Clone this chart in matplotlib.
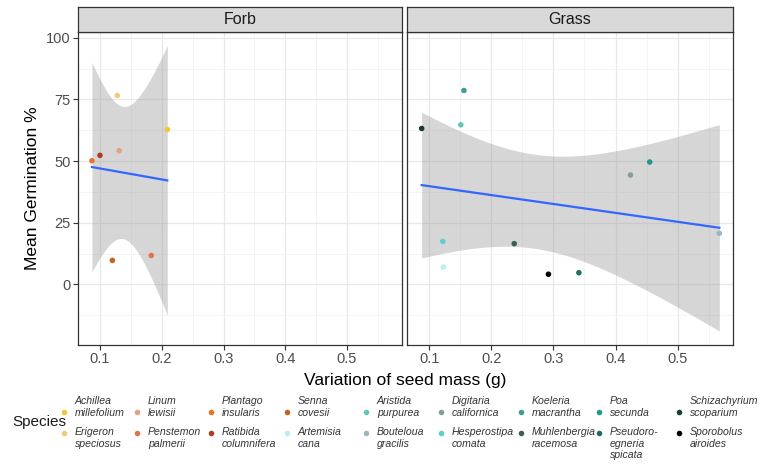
import numpy as np
import matplotlib
matplotlib.use("Agg")
import matplotlib.pyplot as plt

plt.rcParams['font.family'] = ['Liberation Sans', 'DejaVu Sans']

# data
forb_species = ["Achillea millefolium", "Erigeron speciosus", "Linum lewisii", "Penstemon palmerii",
                "Plantago insularis", "Ratibida columnifera", "Senna covesii"]
forb_var = [0.209, 0.128, 0.131, 0.183, 0.087, 0.100, 0.120]
forb_germ = [62.8, 76.6, 54.2, 11.7, 50.1, 52.3, 9.7]

grass_species = ["Artemisia cana", "Aristida purpurea", "Bouteloua gracilis", "Digitaria californica",
                 "Hesperostipa comata", "Koeleria macrantha", "Muhlenbergia racemosa", "Poa secunda",
                 "Pseudoroegneria spicata", "Schizachyrium scoparium", "Sporobolus airoides"]
grass_var = [0.123, 0.151, 0.567, 0.424, 0.122, 0.156, 0.237, 0.455, 0.341, 0.088, 0.292]
grass_germ = [7.0, 64.7, 20.7, 44.3, 17.4, 78.6, 16.5, 49.6, 4.7, 63.2, 4.1]

species_colors = {
    "Achillea millefolium": "#F2C53A", "Erigeron speciosus": "#F6C879", "Linum lewisii": "#E3A08A",
    "Penstemon palmerii": "#E4714F", "Plantago insularis": "#E5732A", "Ratibida columnifera": "#B13B22",
    "Senna covesii": "#C4631C", "Artemisia cana": "#B5F0F2", "Aristida purpurea": "#62C6C0",
    "Bouteloua gracilis": "#9DB8BC", "Digitaria californica": "#7FA19C", "Hesperostipa comata": "#5CCFD2",
    "Koeleria macrantha": "#3E9E96", "Muhlenbergia racemosa": "#3B5E59", "Poa secunda": "#22988D",
    "Pseudoroegneria spicata": "#236B63", "Schizachyrium scoparium": "#173D36", "Sporobolus airoides": "#000000",
}
legend_order = forb_species + grass_species
legend_labels = {s: s.replace(" ", "\n") for s in legend_order}
legend_labels["Pseudoroegneria spicata"] = "Pseudoro-\negneria\nspicata"

panels = [("Forb", forb_var, forb_germ, forb_species),
          ("Grass", grass_var, grass_germ, grass_species)]
t_crit = {5: 2.5706, 9: 2.2622}  # 97.5% t quantiles

W, H = 760, 465
fig = plt.figure(figsize=(W / 100, H / 100), dpi=100)
fig.patch.set_facecolor("white")

def px_box(x0, y0, x1, y1):
    return [x0 / W, 1 - y1 / H, (x1 - x0) / W, (y1 - y0) / H]

panel_x = [(78, 402), (407, 733)]
top, bottom, strip_top = 32.3, 344.5, 7

for i, (name, xv, yv, sp) in enumerate(panels):
    x0, x1 = panel_x[i]
    ax = fig.add_axes(px_box(x0, top, x1, bottom))
    x = np.array(xv)
    y = np.array(yv)
    n = len(x)
    # lm fit with 95% confidence band
    b, a = np.polyfit(x, y, 1)
    xs = np.linspace(x.min(), x.max(), 80)
    fit = a + b * xs
    resid = y - (a + b * x)
    s = np.sqrt(np.sum(resid ** 2) / (n - 2))
    sxx = np.sum((x - x.mean()) ** 2)
    se = s * np.sqrt(1 / n + (xs - x.mean()) ** 2 / sxx)
    ci = t_crit[n - 2] * se
    ax.fill_between(xs, fit - ci, fit + ci, color="#999999", alpha=0.4, lw=0, zorder=2)
    ax.plot(xs, fit, color="#3366FF", lw=1.6, zorder=3)
    ax.scatter(x, y, s=16, c=[species_colors[k] for k in sp], lw=0, zorder=4)

    ax.set_xlim(0.0644, 0.589)
    ax.set_ylim(-24.4, 102.2)
    ax.set_xticks([0.1, 0.2, 0.3, 0.4, 0.5])
    ax.set_xticklabels(["0.1", "0.2", "0.3", "0.4", "0.5"])
    ax.set_xticks(np.arange(0.15, 0.59, 0.1), minor=True)
    ax.set_yticks([0, 25, 50, 75, 100])
    ax.set_yticks([-12.5, 12.5, 37.5, 62.5, 87.5], minor=True)
    ax.grid(True, which="major", color="#E8E8E8", lw=0.9, zorder=0)
    ax.grid(True, which="minor", color="#F2F2F2", lw=0.6, zorder=0)
    ax.set_axisbelow(True)
    ax.tick_params(which="major", length=3.5, width=0.8, color="#333333",
                   labelcolor="#4D4D4D", labelsize=10.5, pad=2)
    ax.tick_params(which="minor", length=0)
    if i == 1:
        ax.tick_params(axis="y", which="both", left=False, labelleft=False)
    for sp_ in ax.spines.values():
        sp_.set_color("#333333")
        sp_.set_linewidth(0.9)

    sax = fig.add_axes(px_box(x0, strip_top, x1, top))
    sax.set_facecolor("#D9D9D9")
    sax.set_xticks([])
    sax.set_yticks([])
    for sp_ in sax.spines.values():
        sp_.set_color("#333333")
        sp_.set_linewidth(0.9)
    sax.text(0.5, 0.5, name, ha="center", va="center", fontsize=11.5, color="#1A1A1A",
             transform=sax.transAxes)

fig.text(405.5 / W, 1 - 380 / H, "Variation of seed mass (g)", ha="center", va="center",
         fontsize=12.5, color="black")
fig.text(33 / W, 1 - 188.4 / H, "Mean Germination %", ha="center", va="center",
         rotation=90, fontsize=12.5, color="black")

# legend at the bottom
lax = fig.add_axes([0, 0, 1, 1])
lax.set_xlim(0, W)
lax.set_ylim(H, 0)
lax.axis("off")
lax.text(12, 422, "Species", ha="left", va="center", fontsize=11, color="#1A1A1A")
text_x = [75, 148, 222, 298, 377, 452, 532, 610, 690]
for k, s in enumerate(legend_order):
    col, row = k // 2, k % 2
    tx = text_x[col]
    if row == 0:
        lax.scatter([tx - 11], [412], s=16, c=species_colors[s], lw=0)
        lax.text(tx, 418, legend_labels[s], ha="left", va="bottom", fontsize=7.6,
                 style="italic", color="#333333", linespacing=1.2)
    else:
        lax.scatter([tx - 11], [433], s=16, c=species_colors[s], lw=0)
        lax.text(tx, 427, legend_labels[s], ha="left", va="top", fontsize=7.6,
                 style="italic", color="#333333", linespacing=1.2)

fig.savefig("out.png", dpi=100)
